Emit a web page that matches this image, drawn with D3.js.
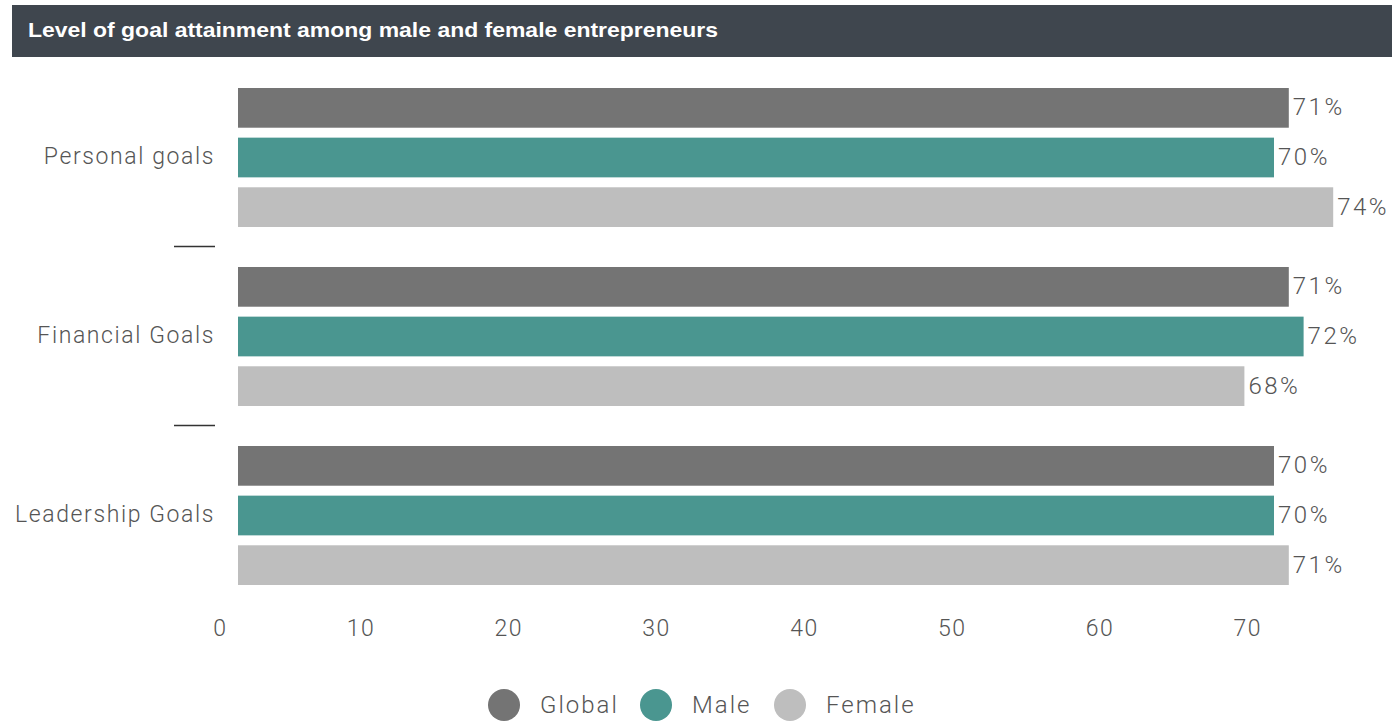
<!DOCTYPE html>
<html>
<head>
<meta charset="utf-8">
<script src="https://cdn.jsdelivr.net/npm/d3@7"></script>
<style>
  html, body { margin: 0; padding: 0; background: #fff; }
  svg { display: block; }
  .title { font-family: "Liberation Sans", Arial, sans-serif; font-weight: 700; fill: #fff; }
  .lbl { font-family: Roboto, "Noto Sans", sans-serif; font-weight: 300; fill: #555; }
</style>
</head>
<body>
<svg id="chart" width="1392" height="722"></svg>
<script>
// Chart data
const categories = ["Personal goals", "Financial Goals", "Leadership Goals"];
const series = ["Global", "Male", "Female"];
const globalValues = [71, 71, 70];
const maleValues = [70, 72, 70];
const femaleValues = [74, 68, 71];
const tickValues = [0, 10, 20, 30, 40, 50, 60, 70];
const titleText = "Level of goal attainment among male and female entrepreneurs";

const colors = { Global: "#747474", Male: "#4a9690", Female: "#bebebe" };
const valuesBySeries = { Global: globalValues, Male: maleValues, Female: femaleValues };

const svg = d3.select("#chart");

// Title banner
svg.append("rect").attr("x", 12).attr("y", 5).attr("width", 1380).attr("height", 52).attr("fill", "#3f464e");
svg.append("text").attr("class", "title").attr("x", 28).attr("y", 37)
  .attr("font-size", 21).attr("textLength", 690).attr("lengthAdjust", "spacingAndGlyphs")
  .text(titleText);

// Scales
const y0 = d3.scaleBand().domain(categories).range([67.5, 604.5]).paddingInner(0);
const y1 = d3.scaleBand().domain(series).range([20.5, 159.5]).paddingInner(0.2).paddingOuter(0);
const x = d3.scaleLinear().domain([0, 74]).range([238, 238 + 74 * 14.8]);
const xAxisScale = d3.scaleLinear().domain([0, 70]).range([227, 1261.5]);

// Rows
const rows = categories.map((c, i) => ({
  cat: c,
  bars: series.map(s => ({ s, v: valuesBySeries[s][i] }))
}));

const g = svg.selectAll("g.group").data(rows).join("g")
  .attr("class", "group")
  .attr("transform", d => `translate(0,${y0(d.cat)})`);

g.selectAll("rect").data(d => d.bars).join("rect")
  .attr("x", x(0))
  .attr("y", d => y1(d.s))
  .attr("width", d => x(d.v) - x(0))
  .attr("height", y1.bandwidth())
  .attr("fill", d => colors[d.s]);

g.selectAll("text.val").data(d => d.bars).join("text")
  .attr("class", "lbl val")
  .attr("x", d => x(d.v) + 4)
  .attr("y", d => y1(d.s) + y1.bandwidth() / 2 - 1)
  .attr("dy", "0.35em")
  .attr("font-size", 24)
  .attr("letter-spacing", 2.5)
  .attr("fill", "#666")
  .text(d => d.v + "%");

// Category labels
svg.selectAll("text.cat").data(categories).join("text")
  .attr("class", "lbl cat")
  .attr("x", 215)
  .attr("y", d => y0(d) + y0.bandwidth() / 2 - 1)
  .attr("dy", "0.35em")
  .attr("text-anchor", "end")
  .attr("font-size", 23)
  .attr("letter-spacing", 1.6)
  .text(d => d);

// Separators between groups
svg.selectAll("line.sep").data(categories.slice(1)).join("line")
  .attr("class", "sep")
  .attr("x1", 174).attr("x2", 215)
  .attr("y1", d => y0(d)).attr("y2", d => y0(d))
  .attr("stroke", "#333").attr("stroke-width", 1.5);

// X axis
const axis = svg.append("g").attr("transform", "translate(0,620)")
  .call(d3.axisBottom(xAxisScale).tickValues(tickValues).tickSize(0).tickPadding(0).tickFormat(d3.format("d")));
axis.select(".domain").remove();
axis.selectAll("text")
  .attr("class", "lbl")
  .attr("font-size", 23)
  .attr("letter-spacing", 1.5)
  .attr("text-anchor", "end")
  .attr("dy", "0.71em")
  .attr("fill", "#555");

// Legend
const legendX = { Global: 504, Male: 656, Female: 790 };
const lg = svg.selectAll("g.leg").data(series).join("g")
  .attr("class", "leg")
  .attr("transform", d => `translate(${legendX[d]},705)`);
lg.append("circle").attr("r", 16).attr("fill", d => colors[d]);
lg.append("text").attr("class", "lbl").attr("x", 36).attr("dy", "0.35em")
  .attr("font-size", 24).attr("letter-spacing", 2).attr("fill", "#555").text(d => d);
</script>
</body>
</html>
